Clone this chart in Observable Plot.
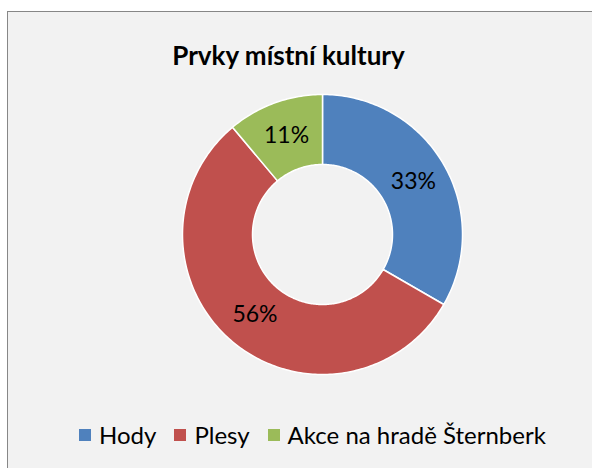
<!DOCTYPE html>
<html>
<head>
<meta charset="utf-8">
<script src="https://cdn.jsdelivr.net/npm/d3@7"></script>
<script src="https://cdn.jsdelivr.net/npm/@observablehq/plot@0.6"></script>
<style>
  html, body { margin: 0; padding: 0; background: #ffffff; }
  #wrap { position: relative; width: 592px; height: 468px; overflow: hidden; background: #ffffff; }
  #bg { position: absolute; left: 7px; top: 11px; width: 700px; height: 600px; box-sizing: border-box;
        border: 1.5px solid #878787; background: #f2f2f2; }
  #chart { position: absolute; left: 0; top: 0; }
  #legend { position: absolute; left: 79px; top: 418px; }
  #legend .lg-swatches-wrap { margin: 0 !important; }
  #legend .lg-swatch { margin-right: 18px !important; }
  #legend .lg-swatch > svg { margin-right: 8px !important; }
</style>
</head>
<body>
<div id="wrap">
  <div id="bg"></div>
  <div id="chart"></div>
  <div id="legend"></div>
</div>
<script>
const title = "Prvky místní kultury";
const categories = ["Hody", "Plesy", "Akce na hradě Šternberk"];
const values = [3, 5, 1];
const labels = ["33%", "56%", "11%"];
const colors = ["#4F81BD", "#C0504D", "#9BBB59"];

const W = 592, H = 468;
const cx = 322, cy = 234, R = 140, r0 = 70;
const FONT = "Lato, 'Open Sans', sans-serif";

const pie = d3.pie().sort(null).value(d => d.value);
const arcs = pie(categories.map((c, i) => ({cat: c, value: values[i], label: labels[i]})));

const pts = [];
for (const a of arcs) {
  const n = Math.max(8, Math.ceil((a.endAngle - a.startAngle) / (Math.PI / 180)));
  for (let k = 0; k <= n; k++) {
    const t = a.startAngle + (a.endAngle - a.startAngle) * k / n;
    pts.push({cat: a.data.cat, x: cx + R * Math.sin(t), y: cy - R * Math.cos(t)});
  }
  for (let k = n; k >= 0; k--) {
    const t = a.startAngle + (a.endAngle - a.startAngle) * k / n;
    pts.push({cat: a.data.cat, x: cx + r0 * Math.sin(t), y: cy - r0 * Math.cos(t)});
  }
}
const rl = (R + r0) / 2;
const labelPts = arcs.map(a => {
  const m = (a.startAngle + a.endAngle) / 2;
  return {label: a.data.label, x: cx + rl * Math.sin(m), y: cy - rl * Math.cos(m)};
});

const plot = Plot.plot({
  width: W, height: H,
  margin: 0,
  style: {background: "transparent", fontFamily: FONT, overflow: "visible"},
  x: {domain: [0, W], range: [0, W], axis: null},
  y: {domain: [0, H], range: [0, H], axis: null},
  color: {domain: categories, range: colors},
  marks: [
    Plot.line(pts, {x: "x", y: "y", z: "cat", fill: "cat", stroke: "#ffffff", strokeWidth: 1.5, curve: "linear-closed"}),
    Plot.text(labelPts, {x: "x", y: "y", text: "label", fontSize: 23, fill: "#000000"}),
    Plot.text([title], {x: () => 288, y: () => 64, text: d => d, fontSize: 26, fontWeight: "bold", lineAnchor: "bottom", fill: "#000000"})
  ]
});
document.getElementById("chart").appendChild(plot);

const legend = Plot.legend({
  color: {domain: categories, range: colors},
  legend: "swatches",
  swatchSize: 12,
  className: "lg",
  style: {fontSize: "24px", fontFamily: FONT, color: "#000000", background: "transparent"}
});
document.getElementById("legend").appendChild(legend);
</script>
</body>
</html>
